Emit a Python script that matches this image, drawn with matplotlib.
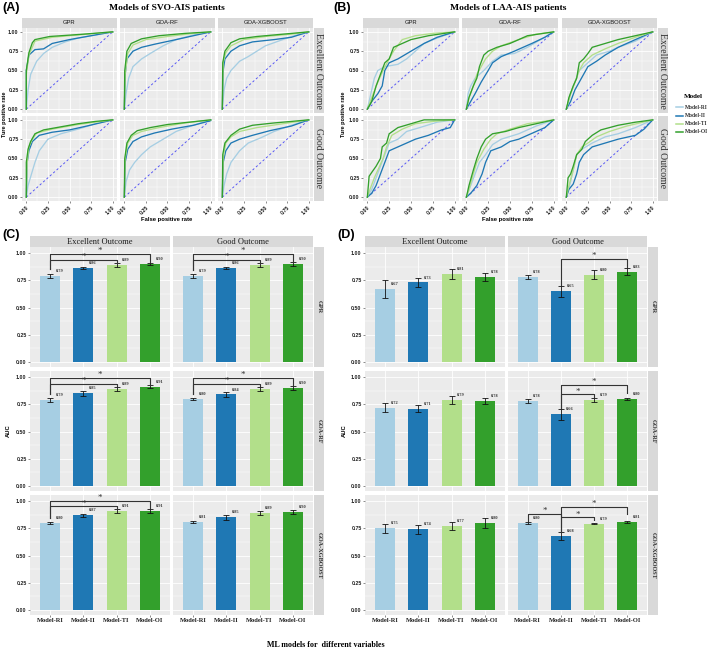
import matplotlib
matplotlib.use("Agg")
import matplotlib.pyplot as plt
from matplotlib.ticker import MultipleLocator
import numpy as np

# ---------------- data ----------------
models = ["Model-RI", "Model-II", "Model-TI", "Model-OI"]
outcomes = ["Excellent Outcome", "Good Outcome"]
algorithms = ["GPR", "GOA-RF", "GOA-XGBOOST"]
model_colors = ["#A6CEE3", "#1F78B4", "#B2DF8A", "#33A02C"]

# ROC curves (fpr list, tpr list)
svo_gpr_exc = {
    "Model-RI": ([0, 0.02, 0.05, 0.12, 0.2, 0.3, 0.45, 0.6, 0.8, 1], [0, 0.25, 0.45, 0.62, 0.72, 0.8, 0.87, 0.92, 0.96, 1]),
    "Model-II": ([0, 0, 0.03, 0.1, 0.2, 0.3, 0.5, 0.75, 1], [0, 0.5, 0.7, 0.77, 0.78, 0.85, 0.9, 0.95, 1]),
    "Model-TI": ([0, 0, 0.03, 0.1, 0.3, 0.6, 1], [0, 0.45, 0.7, 0.88, 0.93, 0.96, 1]),
    "Model-OI": ([0, 0, 0.03, 0.07, 0.1, 0.27, 0.66, 1], [0, 0.5, 0.73, 0.86, 0.9, 0.94, 0.97, 1]),
}
svo_rf_exc = {
    "Model-RI": ([0, 0.02, 0.05, 0.1, 0.2, 0.3, 0.45, 0.6, 0.8, 1], [0, 0.2, 0.4, 0.55, 0.65, 0.72, 0.82, 0.9, 0.96, 1]),
    "Model-II": ([0, 0.01, 0.03, 0.1, 0.2, 0.35, 0.6, 0.8, 1], [0, 0.45, 0.65, 0.75, 0.8, 0.84, 0.9, 0.95, 1]),
    "Model-TI": ([0, 0.01, 0.04, 0.1, 0.25, 0.5, 0.8, 1], [0, 0.45, 0.72, 0.83, 0.9, 0.94, 0.98, 1]),
    "Model-OI": ([0, 0.005, 0.03, 0.08, 0.2, 0.4, 0.7, 1], [0, 0.5, 0.75, 0.85, 0.91, 0.95, 0.98, 1]),
}
svo_xgb_exc = {
    "Model-RI": ([0, 0.02, 0.05, 0.1, 0.2, 0.3, 0.4, 0.5, 0.65, 0.8, 1], [0, 0.25, 0.4, 0.5, 0.62, 0.68, 0.75, 0.82, 0.88, 0.94, 1]),
    "Model-II": ([0, 0.01, 0.03, 0.1, 0.2, 0.35, 0.6, 0.8, 1], [0, 0.5, 0.65, 0.75, 0.82, 0.87, 0.9, 0.93, 1]),
    "Model-TI": ([0, 0.01, 0.04, 0.1, 0.25, 0.5, 0.8, 1], [0, 0.6, 0.73, 0.82, 0.9, 0.94, 0.97, 1]),
    "Model-OI": ([0, 0.005, 0.03, 0.1, 0.2, 0.4, 0.7, 1], [0, 0.6, 0.75, 0.86, 0.91, 0.94, 0.97, 1]),
}
svo_gpr_good = {
    "Model-RI": ([0, 0.02, 0.06, 0.1, 0.15, 0.25, 0.4, 0.6, 0.8, 1], [0, 0.15, 0.3, 0.45, 0.6, 0.75, 0.82, 0.88, 0.95, 1]),
    "Model-II": ([0, 0.01, 0.03, 0.07, 0.15, 0.3, 0.5, 0.7, 1], [0, 0.45, 0.6, 0.72, 0.8, 0.84, 0.87, 0.92, 1]),
    "Model-TI": ([0, 0.01, 0.03, 0.07, 0.12, 0.3, 0.6, 1], [0, 0.45, 0.65, 0.75, 0.83, 0.88, 0.94, 1]),
    "Model-OI": ([0, 0, 0.02, 0.05, 0.1, 0.2, 0.35, 0.6, 0.8, 1], [0, 0.45, 0.62, 0.72, 0.82, 0.87, 0.9, 0.95, 0.98, 1]),
}
svo_rf_good = {
    "Model-RI": ([0, 0.02, 0.06, 0.12, 0.2, 0.3, 0.45, 0.6, 0.8, 1], [0, 0.2, 0.35, 0.45, 0.55, 0.65, 0.75, 0.85, 0.93, 1]),
    "Model-II": ([0, 0.01, 0.04, 0.1, 0.2, 0.35, 0.55, 0.8, 1, 1], [0, 0.45, 0.62, 0.72, 0.78, 0.83, 0.88, 0.93, 0.99, 1]),
    "Model-TI": ([0, 0.01, 0.04, 0.1, 0.2, 0.4, 0.7, 1], [0, 0.5, 0.7, 0.8, 0.85, 0.9, 0.96, 1]),
    "Model-OI": ([0, 0.005, 0.03, 0.08, 0.15, 0.3, 0.5, 0.75, 1], [0, 0.5, 0.7, 0.8, 0.86, 0.9, 0.94, 0.97, 1]),
}
svo_xgb_good = {
    "Model-RI": ([0, 0.02, 0.05, 0.1, 0.2, 0.3, 0.45, 0.6, 0.8, 1], [0, 0.15, 0.3, 0.45, 0.6, 0.7, 0.77, 0.85, 0.93, 1]),
    "Model-II": ([0, 0.01, 0.04, 0.1, 0.2, 0.35, 0.55, 0.8, 1], [0, 0.45, 0.6, 0.7, 0.75, 0.8, 0.86, 0.92, 1]),
    "Model-TI": ([0, 0.01, 0.04, 0.1, 0.2, 0.4, 0.7, 1], [0, 0.5, 0.7, 0.78, 0.85, 0.9, 0.95, 1]),
    "Model-OI": ([0, 0.005, 0.03, 0.1, 0.2, 0.35, 0.6, 0.8, 1], [0, 0.55, 0.7, 0.8, 0.88, 0.93, 0.96, 0.98, 1]),
}
laa_gpr_exc = {
    "Model-RI": ([0, 0.05, 0.08, 0.12, 0.2, 0.35, 0.45, 0.55, 0.65, 0.8, 1], [0, 0.25, 0.4, 0.5, 0.55, 0.58, 0.65, 0.75, 0.85, 0.92, 1]),
    "Model-II": ([0, 0.05, 0.12, 0.17, 0.2, 0.25, 0.35, 0.5, 0.65, 0.8, 1], [0, 0.1, 0.2, 0.3, 0.5, 0.6, 0.65, 0.75, 0.85, 0.93, 1]),
    "Model-TI": ([0, 0.05, 0.12, 0.18, 0.25, 0.3, 0.4, 0.55, 0.75, 1], [0, 0.15, 0.35, 0.5, 0.65, 0.75, 0.9, 0.95, 0.98, 1]),
    "Model-OI": ([0, 0.05, 0.1, 0.15, 0.2, 0.25, 0.3, 0.4, 0.5, 0.7, 1], [0, 0.1, 0.3, 0.45, 0.6, 0.65, 0.8, 0.85, 0.9, 0.95, 1]),
}
laa_rf_exc = {
    "Model-RI": ([0, 0.02, 0.05, 0.1, 0.2, 0.3, 0.4, 0.55, 0.7, 0.85, 1], [0, 0.2, 0.3, 0.4, 0.5, 0.62, 0.7, 0.72, 0.8, 0.9, 1]),
    "Model-II": ([0, 0.05, 0.1, 0.17, 0.25, 0.3, 0.4, 0.55, 0.75, 0.9, 1], [0, 0.1, 0.2, 0.35, 0.5, 0.6, 0.68, 0.75, 0.85, 0.93, 1]),
    "Model-TI": ([0, 0.03, 0.08, 0.12, 0.17, 0.22, 0.3, 0.4, 0.6, 0.8, 1], [0, 0.15, 0.3, 0.45, 0.55, 0.65, 0.75, 0.82, 0.9, 0.97, 1]),
    "Model-OI": ([0, 0.03, 0.08, 0.12, 0.15, 0.2, 0.25, 0.35, 0.5, 0.7, 1], [0, 0.15, 0.3, 0.4, 0.55, 0.7, 0.75, 0.8, 0.85, 0.95, 1]),
}
laa_xgb_exc = {
    "Model-RI": ([0, 0.05, 0.1, 0.15, 0.25, 0.35, 0.5, 0.6, 0.8, 1], [0, 0.2, 0.35, 0.5, 0.6, 0.7, 0.75, 0.8, 0.88, 1]),
    "Model-II": ([0, 0.05, 0.1, 0.15, 0.2, 0.25, 0.35, 0.45, 0.6, 0.8, 1], [0, 0.1, 0.25, 0.35, 0.45, 0.55, 0.62, 0.7, 0.8, 0.9, 1]),
    "Model-TI": ([0, 0.05, 0.1, 0.15, 0.2, 0.3, 0.45, 0.6, 0.8, 1], [0, 0.2, 0.35, 0.5, 0.6, 0.7, 0.78, 0.85, 0.93, 1]),
    "Model-OI": ([0, 0.03, 0.08, 0.12, 0.15, 0.2, 0.25, 0.3, 0.45, 0.6, 0.8, 1], [0, 0.15, 0.3, 0.4, 0.6, 0.65, 0.72, 0.8, 0.85, 0.9, 0.95, 1]),
}
laa_gpr_good = {
    "Model-RI": ([0, 0.05, 0.1, 0.15, 0.2, 0.25, 0.35, 0.45, 0.6, 0.8, 1], [0, 0.1, 0.25, 0.4, 0.55, 0.7, 0.75, 0.85, 0.9, 0.97, 1]),
    "Model-II": ([0, 0.05, 0.1, 0.15, 0.2, 0.25, 0.35, 0.45, 0.55, 0.7, 0.85, 0.95, 1], [0, 0.05, 0.15, 0.3, 0.45, 0.6, 0.65, 0.7, 0.75, 0.8, 0.87, 0.9, 1]),
    "Model-TI": ([0, 0.03, 0.08, 0.12, 0.18, 0.22, 0.28, 0.4, 0.55, 0.75, 1], [0, 0.1, 0.25, 0.35, 0.5, 0.65, 0.8, 0.88, 0.95, 0.98, 1]),
    "Model-OI": ([0, 0.02, 0.05, 0.1, 0.15, 0.17, 0.22, 0.25, 0.35, 0.5, 0.65, 1], [0, 0.27, 0.32, 0.4, 0.5, 0.65, 0.7, 0.82, 0.9, 0.95, 1, 1]),
}
laa_rf_good = {
    "Model-RI": ([0, 0.05, 0.1, 0.15, 0.22, 0.3, 0.4, 0.6, 0.8, 1], [0, 0.15, 0.3, 0.45, 0.55, 0.68, 0.75, 0.82, 0.92, 1]),
    "Model-II": ([0, 0.05, 0.12, 0.18, 0.22, 0.28, 0.4, 0.5, 0.6, 0.8, 0.9, 1], [0, 0.05, 0.15, 0.3, 0.45, 0.6, 0.65, 0.72, 0.75, 0.85, 0.9, 1]),
    "Model-TI": ([0, 0.03, 0.08, 0.12, 0.2, 0.28, 0.35, 0.5, 0.7, 1], [0, 0.1, 0.3, 0.45, 0.62, 0.75, 0.82, 0.88, 0.95, 1]),
    "Model-OI": ([0, 0.03, 0.08, 0.12, 0.17, 0.22, 0.3, 0.45, 0.6, 0.8, 1], [0, 0.15, 0.35, 0.5, 0.65, 0.75, 0.82, 0.85, 0.9, 0.95, 1]),
}
laa_xgb_good = {
    "Model-RI": ([0, 0.05, 0.08, 0.12, 0.18, 0.3, 0.45, 0.6, 0.8, 1], [0, 0.2, 0.35, 0.55, 0.62, 0.7, 0.78, 0.82, 0.9, 1]),
    "Model-II": ([0, 0.03, 0.08, 0.12, 0.15, 0.2, 0.3, 0.45, 0.6, 0.8, 0.9, 1], [0, 0.1, 0.17, 0.3, 0.45, 0.55, 0.65, 0.7, 0.75, 0.8, 0.88, 1]),
    "Model-TI": ([0, 0.03, 0.08, 0.12, 0.18, 0.25, 0.35, 0.5, 0.7, 1], [0, 0.15, 0.35, 0.55, 0.65, 0.7, 0.78, 0.85, 0.92, 1]),
    "Model-OI": ([0, 0.02, 0.05, 0.08, 0.12, 0.18, 0.22, 0.3, 0.4, 0.6, 0.8, 1], [0, 0.25, 0.3, 0.4, 0.55, 0.62, 0.72, 0.8, 0.87, 0.93, 0.97, 1]),
}

svo_rocs = [[svo_gpr_exc, svo_rf_exc, svo_xgb_exc], [svo_gpr_good, svo_rf_good, svo_xgb_good]]
laa_rocs = [[laa_gpr_exc, laa_rf_exc, laa_xgb_exc], [laa_gpr_good, laa_rf_good, laa_xgb_good]]

# AUC bars: rows = GPR, GOA-RF, GOA-XGBOOST ; columns = models
svo_auc_excellent = [[0.79, 0.86, 0.89, 0.90], [0.79, 0.85, 0.89, 0.91], [0.80, 0.87, 0.91, 0.91]]
svo_err_excellent = [[0.02, 0.01, 0.02, 0.012], [0.015, 0.02, 0.02, 0.015], [0.01, 0.015, 0.02, 0.02]]
svo_auc_good = [[0.79, 0.86, 0.89, 0.90], [0.80, 0.84, 0.89, 0.90], [0.81, 0.85, 0.89, 0.90]]
svo_err_good = [[0.02, 0.01, 0.02, 0.02], [0.01, 0.02, 0.02, 0.02], [0.01, 0.02, 0.02, 0.02]]
laa_auc_excellent = [[0.67, 0.73, 0.81, 0.78], [0.72, 0.71, 0.79, 0.78], [0.75, 0.74, 0.77, 0.80]]
laa_err_excellent = [[0.085, 0.04, 0.045, 0.04], [0.04, 0.03, 0.04, 0.03], [0.04, 0.04, 0.035, 0.045]]
laa_auc_good = [[0.78, 0.65, 0.80, 0.83], [0.78, 0.66, 0.79, 0.80], [0.80, 0.68, 0.79, 0.81]]
laa_err_good = [[0.015, 0.05, 0.04, 0.03], [0.015, 0.05, 0.02, 0.01], [0.01, 0.04, 0.005, 0.01]]

# significance brackets: (row, outcome col) -> [(from, to, level, from_end, to_end)]
svo_sig = {
    (0, 0): [(0, 2, 0.94, 0.85, 0.91), (0, 3, 0.99, 0.85, 0.92)],
    (0, 1): [(0, 2, 0.94, 0.84, 0.91), (0, 3, 0.99, 0.84, 0.92)],
    (1, 0): [(0, 2, 0.94, 0.84, 0.92), (0, 3, 0.99, 0.84, 0.93)],
    (1, 1): [(0, 2, 0.94, 0.84, 0.92), (0, 3, 0.99, 0.84, 0.93)],
    (2, 0): [(0, 2, 0.95, 0.84, 0.93), (0, 3, 1.00, 0.84, 0.94)],
}
laa_sig = {
    (0, 1): [(1, 3, 0.945, 0.71, 0.87)],
    (1, 1): [(1, 2, 0.84, 0.72, 0.815), (1, 3, 0.93, 0.72, 0.85)],
    (2, 1): [(0, 1, 0.885, 0.82, 0.86), (1, 2, 0.85, 0.72, 0.83), (1, 3, 0.945, 0.72, 0.88)],
}

# ---------------- style ----------------
W, H = 709, 650
fig = plt.figure(figsize=(W / 100, H / 100), dpi=100)
fig.patch.set_facecolor("white")
PANEL_BG = "#EBEBEB"
STRIP_BG = "#D9D9D9"
SANS = "Liberation Sans"
SERIF = "Liberation Serif"
DIAG = "#4f4ff5"


def box(x0, y0, x1, y1):
    return fig.add_axes([x0 / W, 1 - y1 / H, (x1 - x0) / W, (y1 - y0) / H])


def style_panel(ax):
    ax.set_facecolor(PANEL_BG)
    for s in ax.spines.values():
        s.set_visible(False)
    ax.grid(which="major", color="white", lw=0.6)
    ax.grid(which="minor", color="white", lw=0.3)
    ax.set_axisbelow(True)
    ax.tick_params(which="major", length=1.5, width=0.4, color="#333333", pad=1)
    ax.tick_params(which="minor", length=0)


def strip(x0, y0, x1, y1, text, rot=0, fs=4, family=SANS, weight="normal", color="#1a1a1a"):
    a = box(x0, y0, x1, y1)
    a.set_facecolor(STRIP_BG)
    a.set_xticks([])
    a.set_yticks([])
    for s in a.spines.values():
        s.set_visible(False)
    a.text(0.5, 0.5, text, rotation=rot, ha="center", va="center", transform=a.transAxes,
           fontsize=fs, family=family, weight=weight, color=color)


def roc_block(cols_x, rows_y, strip_y, right_x, rocs):
    for c, alg in enumerate(algorithms):
        strip(cols_x[c][0], strip_y[0], cols_x[c][1], strip_y[1], alg, fs=4.2, family=SANS)
    for r, outcome in enumerate(outcomes):
        strip(right_x[0], rows_y[r][0], right_x[1], rows_y[r][1], outcome, rot=270, fs=7,
              family=SERIF, color="#333333")
        for c, alg in enumerate(algorithms):
            ax = box(cols_x[c][0], rows_y[r][0], cols_x[c][1], rows_y[r][1])
            style_panel(ax)
            ax.plot([0, 1], [0, 1], ls=(0, (2.5, 2.5)), color=DIAG, lw=0.65)
            curves = rocs[r][c]
            for m, col in zip(models, model_colors):
                fpr, tpr = curves[m]
                ax.plot(fpr, tpr, color=col, lw=0.95, solid_joinstyle="miter")
            ax.set_xlim(-0.05, 1.05)
            ax.set_ylim(-0.05, 1.05)
            for axis in (ax.xaxis, ax.yaxis):
                axis.set_major_locator(MultipleLocator(0.25))
                axis.set_minor_locator(MultipleLocator(0.125))
            ticks = [0, 0.25, 0.5, 0.75, 1.0]
            labels = ["0.00", "0.25", "0.50", "0.75", "1.00"]
            ax.set_yticks(ticks)
            ax.set_xticks(ticks)
            if c == 0:
                ax.set_yticklabels(labels, fontsize=3.8, weight="bold", family=SANS, color="#222222")
            else:
                ax.set_yticklabels([])
                ax.tick_params(axis="y", length=0)
            if r == 1:
                ax.set_xticklabels(labels, fontsize=3.8, weight="bold", family=SANS, color="#222222",
                                   rotation=45, ha="right", va="top", rotation_mode="anchor")
            else:
                ax.set_xticklabels([])
                ax.tick_params(axis="x", length=0)


def bar_block(cols_x, rows_y, strip_y, right_x, auc_e, err_e, auc_g, err_g, sigs):
    for c, outcome in enumerate(outcomes):
        strip(cols_x[c][0], strip_y[0], cols_x[c][1], strip_y[1], outcome, fs=6, family=SERIF)
    x = np.arange(1, 5)
    for r, alg in enumerate(algorithms):
        strip(right_x[0], rows_y[r][0], right_x[1], rows_y[r][1], alg, rot=270, fs=4.5,
              family=SERIF, weight="bold", color="#333333")
        for c in range(2):
            vals = (auc_e if c == 0 else auc_g)[r]
            errs = (err_e if c == 0 else err_g)[r]
            ax = box(cols_x[c][0], rows_y[r][0], cols_x[c][1], rows_y[r][1])
            style_panel(ax)
            ax.bar(x, vals, width=0.6, color=model_colors, zorder=2)
            ax.errorbar(x, vals, yerr=errs, fmt="none", ecolor="#111111", elinewidth=0.6,
                        capsize=2.5, capthick=0.6, zorder=3)
            for xi, v in zip(x, vals):
                ax.text(xi + 0.28, v + 0.045, f"{v:.2f}", fontsize=3.2, family=SERIF, weight="bold",
                        ha="center", va="center", color="#333333")
            for (a, b, lvl, e1, e2) in sigs.get((r, c), []):
                ax.plot([x[a], x[a], x[b], x[b]], [e1, lvl, lvl, e2], color="#333333", lw=0.8, zorder=4)
                ax.text((x[a] + x[b]) / 2, lvl + 0.025, "*", fontsize=6.5, family=SERIF,
                        ha="center", va="center", color="#333333")
            ax.set_xlim(0.4, 4.6)
            ax.set_ylim(-0.045, 1.055)
            ax.yaxis.set_major_locator(MultipleLocator(0.25))
            ax.yaxis.set_minor_locator(MultipleLocator(0.125))
            ax.set_xticks(x)
            ax.set_yticks([0, 0.25, 0.5, 0.75, 1.0])
            if c == 0:
                ax.set_yticklabels(["0.00", "0.25", "0.50", "0.75", "1.00"], fontsize=3.8,
                                   weight="bold", family=SANS, color="#222222")
            else:
                ax.set_yticklabels([])
                ax.tick_params(axis="y", length=0)
            if r == 2:
                ax.set_xticklabels(models, fontsize=4.7, weight="bold", family=SERIF, color="#222222")
            else:
                ax.set_xticklabels([])
                ax.tick_params(axis="x", length=0)


# ---------------- panel A ----------------
roc_block([(22, 117), (120, 215), (218, 313)], [(28, 113), (116, 201)], (18, 28), (314, 324), svo_rocs)
# ---------------- panel B ----------------
roc_block([(363, 459), (462, 558), (562, 657)], [(28, 113), (116, 201)], (18, 28), (658, 668), laa_rocs)
# ---------------- panel C ----------------
bar_block([(30, 170), (173, 313)], [(247, 367), (371, 491), (495, 615)], (236, 247), (314, 324),
          svo_auc_excellent, svo_err_excellent, svo_auc_good, svo_err_good, svo_sig)
# ---------------- panel D ----------------
bar_block([(365, 505), (508, 647)], [(247, 367), (371, 491), (495, 615)], (236, 247), (648, 658),
          laa_auc_excellent, laa_err_excellent, laa_auc_good, laa_err_good, laa_sig)


def ftext(px, py, s, **kw):
    fig.text(px / W, 1 - py / H, s, **kw)


ftext(2, 8, "(A)", fontsize=9, weight="bold", family=SANS, va="center", ha="left")
ftext(333, 8, "(B)", fontsize=9, weight="bold", family=SANS, va="center", ha="left")
ftext(2, 235, "(C)", fontsize=9, weight="bold", family=SANS, va="center", ha="left")
ftext(337, 235, "(D)", fontsize=9, weight="bold", family=SANS, va="center", ha="left")
ftext(167, 8, "Models of SVO-AIS patients", fontsize=6.8, weight="bold", family=SERIF, ha="center", va="center")
ftext(508, 8, "Models of LAA-AIS patients", fontsize=6.8, weight="bold", family=SERIF, ha="center", va="center")
ftext(5, 114, "Ture positive rate", fontsize=4, weight="bold", family=SANS, rotation=90, ha="center", va="center")
ftext(344, 114, "Ture positive rate", fontsize=4, weight="bold", family=SANS, rotation=90, ha="center", va="center")
ftext(167, 219, "False positive rate", fontsize=4.2, weight="bold", family=SANS, ha="center", va="center")
ftext(508, 219, "False positive rate", fontsize=4.2, weight="bold", family=SANS, ha="center", va="center")
ftext(8, 431, "AUC", fontsize=4.2, weight="bold", family=SANS, rotation=90, ha="center", va="center")
ftext(344, 431, "AUC", fontsize=4.2, weight="bold", family=SANS, rotation=90, ha="center", va="center")
ftext(326, 645, "ML models for  different variables", fontsize=5.8, weight="bold", family=SERIF, ha="center", va="center")

# legend
ftext(684, 96, "Model", fontsize=5, weight="bold", family=SERIF, ha="left", va="center")
leg = box(672, 100, 709, 138)
leg.set_xlim(672, 709)
leg.set_ylim(138, 100)
leg.axis("off")
for i, (m, col) in enumerate(zip(models, model_colors)):
    yy = 107.3 + i * 8.2
    leg.plot([676, 683], [yy, yy], color=col, lw=1.1)
    leg.text(684.5, yy, m, fontsize=4, family=SERIF, weight="bold", va="center", ha="left", color="#333333")

fig.savefig("out.png", dpi=100, facecolor="white")
